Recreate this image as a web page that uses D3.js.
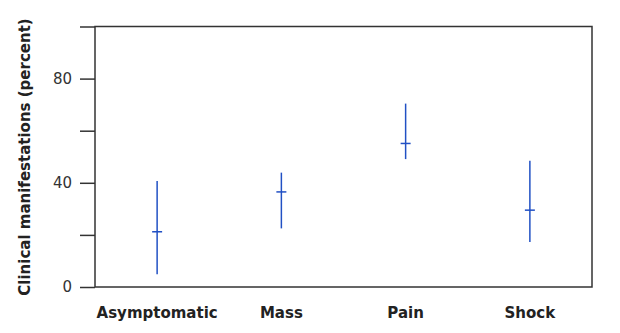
<!DOCTYPE html>
<html><head><meta charset="utf-8">
<script src="https://cdn.jsdelivr.net/npm/d3@7"></script>
<style>body{margin:0;background:#fff}svg{display:block}</style>
</head><body>
<svg id="c" width="620" height="333"></svg>
<script>
const categories = ["Asymptomatic", "Mass", "Pain", "Shock"];
const meanValues = [21.2, 36.5, 55.1, 29.5];
const lowValues  = [4.9, 22.5, 49.1, 17.3];
const highValues = [40.7, 43.9, 70.4, 48.5];
const yTicks = [0, 20, 40, 60, 80, 100];
const yTickLabels = ["0", "", "40", "", "80", ""];
const yLabel = "Clinical manifestations (percent)";

(function () {
const svg = d3.select("#c");
const mL = 95, mR = 592, mT = 26.5, mB = 287;
const x = d3.scaleBand().domain(categories).range([mL, mR]);
const y = d3.scaleLinear().domain([0, 100]).range([mB, mT]);
const font = "'DejaVu Sans', Verdana, sans-serif";
const blue = "#2150c4";

// frame
svg.append("rect").attr("x", mL).attr("y", mT).attr("width", mR - mL).attr("height", mB - mT)
  .attr("fill", "none").attr("stroke", "#333").attr("stroke-width", 1.5);

// y axis
const yAxis = d3.axisLeft(y).tickValues(yTicks).tickSize(15).tickPadding(8)
  .tickFormat((d, i) => yTickLabels[i]);
const ga = svg.append("g").attr("transform", `translate(${mL},0)`).call(yAxis);
ga.select(".domain").remove();
ga.selectAll(".tick line").attr("stroke", "#333").attr("stroke-width", 1.5);
ga.selectAll(".tick text").attr("font-family", font).attr("font-size", 15).attr("fill", "#333");

// x labels
svg.append("g").selectAll("text").data(categories).join("text")
  .attr("x", d => x(d) + x.bandwidth() / 2).attr("y", 318)
  .attr("text-anchor", "middle").attr("font-family", font).attr("font-weight", "bold")
  .attr("font-size", 15).attr("fill", "#222").text(d => d);

// y label
svg.append("text").attr("transform", `translate(30,157) rotate(-90)`)
  .attr("text-anchor", "middle").attr("font-family", font).attr("font-weight", "bold")
  .attr("font-size", 15).attr("fill", "#222").text(yLabel);

// error bars
const data = categories.map((c, i) => ({c, m: meanValues[i], lo: lowValues[i], hi: highValues[i]}));
const g = svg.append("g");
g.selectAll("line.v").data(data).join("line").attr("class", "v")
  .attr("x1", d => x(d.c) + x.bandwidth() / 2).attr("x2", d => x(d.c) + x.bandwidth() / 2)
  .attr("y1", d => y(d.lo)).attr("y2", d => y(d.hi))
  .attr("stroke", blue).attr("stroke-width", 1.5);
g.selectAll("line.m").data(data).join("line").attr("class", "m")
  .attr("x1", d => x(d.c) + x.bandwidth() / 2 - 5).attr("x2", d => x(d.c) + x.bandwidth() / 2 + 5)
  .attr("y1", d => y(d.m)).attr("y2", d => y(d.m))
  .attr("stroke", blue).attr("stroke-width", 1.5);
})();
</script>
</body></html>
